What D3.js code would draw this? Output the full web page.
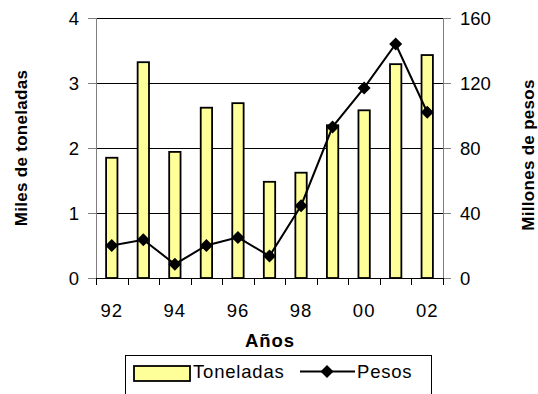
<!DOCTYPE html>
<html><head><meta charset="utf-8">
<script src="https://cdn.jsdelivr.net/npm/d3@7"></script>
<style>
html,body{margin:0;padding:0;background:#fff;}
svg{display:block;font-family:"Liberation Sans",Arial,sans-serif;}
</style></head>
<body>
<svg id="c" width="538" height="394"></svg>
<script>
const years = ["92","93","94","95","96","97","98","99","00","01","02"];
const tickYears = ["92","94","96","98","00","02"];
const toneladas = [1.85,3.32,1.94,2.62,2.69,1.48,1.62,2.35,2.58,3.29,3.43];
const pesos = [20,23.5,8.5,20,25,13.5,44.5,93,117,144,102];
const leftTicks = [0,1,2,3,4];
const rightTicks = [0,40,80,120,160];

const svg = d3.select("#c");
const L = 96, R = 443, T = 18, B = 278;
const x = d3.scaleBand().domain(years).range([L, R]).padding(0);
const yL = d3.scaleLinear().domain([0,4]).range([B, T]);
const yR = d3.scaleLinear().domain([0,160]).range([B, T]);
const bw = x.bandwidth()*0.36;

// gridlines
svg.append("g").selectAll("line").data(leftTicks.filter(d=>d>0)).join("line")
  .attr("x1",L).attr("x2",R).attr("y1",d=>yL(d)).attr("y2",d=>yL(d))
  .attr("stroke","#000").attr("stroke-width",1).attr("shape-rendering","crispEdges");

// vertical axis lines
svg.append("line").attr("x1",L).attr("x2",L).attr("y1",T).attr("y2",B+7).attr("stroke","#808080").attr("shape-rendering","crispEdges");
svg.append("line").attr("x1",R).attr("x2",R).attr("y1",T).attr("y2",B+7).attr("stroke","#808080").attr("shape-rendering","crispEdges");

// left ticks + labels
const gl = svg.append("g");
gl.selectAll("line").data(leftTicks).join("line")
  .attr("x1",L-8).attr("x2",L).attr("y1",d=>yL(d)).attr("y2",d=>yL(d))
  .attr("stroke","#808080").attr("shape-rendering","crispEdges");
gl.selectAll("text").data(leftTicks).join("text")
  .attr("x",L-17).attr("y",d=>yL(d)).attr("dy","0.36em")
  .attr("text-anchor","end").attr("font-size","18.5px").attr("fill","#000").text(d=>d);

// right ticks + labels
const gr = svg.append("g");
gr.selectAll("line").data(rightTicks).join("line")
  .attr("x1",R).attr("x2",R+8).attr("y1",d=>yR(d)).attr("y2",d=>yR(d))
  .attr("stroke","#808080").attr("shape-rendering","crispEdges");
gr.selectAll("text").data(rightTicks).join("text")
  .attr("x",R+17).attr("y",d=>yR(d)).attr("dy","0.36em")
  .attr("text-anchor","start").attr("font-size","18.5px").attr("fill","#000").text(d=>d);

// bars
svg.append("g").selectAll("rect").data(years).join("rect")
  .attr("x",(d)=>x(d)+x.bandwidth()/2-bw/2)
  .attr("width",bw)
  .attr("y",(d,i)=>yL(toneladas[i]))
  .attr("height",(d,i)=>B-yL(toneladas[i]))
  .attr("fill","#FFFF99").attr("stroke","#000").attr("stroke-width",1.8);

// bottom axis
svg.append("line").attr("x1",L).attr("x2",R).attr("y1",B).attr("y2",B).attr("stroke","#000").attr("shape-rendering","crispEdges");
const bounds = years.map(d=>x(d)).concat([R]);
svg.append("g").selectAll("line").data(bounds).join("line")
  .attr("x1",d=>Math.round(d)+0.5).attr("x2",d=>Math.round(d)+0.5).attr("y1",B).attr("y2",B+7)
  .attr("stroke","#000");
svg.append("g").selectAll("text").data(tickYears).join("text")
  .attr("x",d=>x(d)+x.bandwidth()/2).attr("y",B+39)
  .attr("text-anchor","middle").attr("font-size","18.5px").attr("letter-spacing","1px").text(d=>d);

// line
const line = d3.line().x((d,i)=>x(years[i])+x.bandwidth()/2).y(d=>yR(d));
svg.append("path").datum(pesos).attr("d",line).attr("fill","none").attr("stroke","#000").attr("stroke-width",2);
const diamond = "M0,-6.5L6.5,0L0,6.5L-6.5,0Z";
svg.append("g").selectAll("path").data(pesos).join("path")
  .attr("transform",(d,i)=>`translate(${x(years[i])+x.bandwidth()/2},${yR(d)})`)
  .attr("d",diamond).attr("fill","#000");

// axis titles
svg.append("text").attr("transform","translate(27,148) rotate(-90)").attr("text-anchor","middle")
  .attr("font-size","17px").attr("font-weight","bold").attr("letter-spacing","0.3px").text("Miles de toneladas");
svg.append("text").attr("transform","translate(534,155) rotate(-90)").attr("text-anchor","middle")
  .attr("font-size","17px").attr("font-weight","bold").attr("letter-spacing","0.3px").text("Millones de pesos");
svg.append("text").attr("x",270).attr("y",347).attr("text-anchor","middle")
  .attr("font-size","18.5px").attr("font-weight","bold").attr("letter-spacing","1px").text("Años");

// legend
svg.append("rect").attr("x",125.5).attr("y",355.5).attr("width",306).attr("height",50)
  .attr("fill","#fff").attr("stroke","#000").attr("stroke-width",1);
svg.append("rect").attr("x",134).attr("y",366).attr("width",56).attr("height",15)
  .attr("fill","#FFFF99").attr("stroke","#000").attr("stroke-width",1.8);
svg.append("text").attr("x",193).attr("y",377.5).attr("font-size","18.5px").attr("letter-spacing","0.8px").text("Toneladas");
svg.append("line").attr("x1",300).attr("x2",355).attr("y1",371.5).attr("y2",371.5).attr("stroke","#000").attr("stroke-width",2);
svg.append("path").attr("transform","translate(327,371.5)").attr("d",diamond).attr("fill","#000");
svg.append("text").attr("x",357).attr("y",377.5).attr("font-size","18.5px").attr("letter-spacing","0.8px").text("Pesos");
</script>
</body></html>
